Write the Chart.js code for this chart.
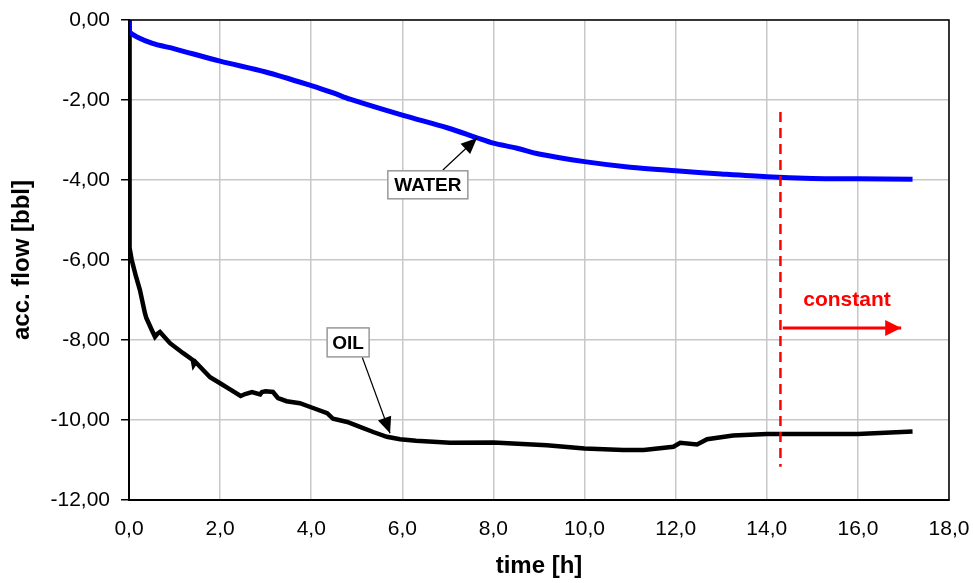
<!DOCTYPE html>
<html>
<head>
<meta charset="utf-8">
<script src="https://cdn.jsdelivr.net/npm/chart.js@4/dist/chart.umd.min.js"></script>
<style>
  body { margin: 0; background: #fff; }
  canvas { display: block; }
</style>
</head>
<body>
<canvas id="chart" width="973" height="583"></canvas>
<script>
// time [h] and accumulated flow [bbl]
const waterTime = [0, 0.01, 0.5, 1.0, 2.0, 3.0, 4.0, 4.5, 4.85, 6.0, 7.0, 7.65, 8.0, 8.5, 9.0, 10.0, 11.0, 12.0, 13.0, 14.0, 15.0, 16.0, 17.2];
const waterFlow = [0, -0.3, -0.58, -0.72, -1.03, -1.3, -1.64, -1.83, -1.98, -2.38, -2.7, -2.95, -3.08, -3.2, -3.35, -3.54, -3.68, -3.77, -3.85, -3.92, -3.96, -3.97, -3.98];

const oilTime = [0, 0.005, 0.02, 0.06, 0.15, 0.24, 0.35, 0.38, 0.5, 0.57, 0.62, 0.68, 0.9, 1.19, 1.4, 1.42, 1.46, 1.78, 2.0, 2.2, 2.45, 2.55, 2.7, 2.88, 2.92, 3.0, 3.16, 3.27, 3.46, 3.75, 4.04, 4.35, 4.48, 4.79, 5.07, 5.36, 5.66, 5.95, 6.3, 7.05, 8.0, 9.17, 10.0, 10.85, 11.3, 11.95, 12.1, 12.47, 12.69, 13.26, 14.0, 15.1, 16.0, 17.2];
const oilFlow = [0, -5.4, -5.7, -6.0, -6.4, -6.75, -7.33, -7.45, -7.75, -7.92, -7.85, -7.8, -8.08, -8.33, -8.5, -8.62, -8.55, -8.93, -9.08, -9.22, -9.4, -9.35, -9.3, -9.36, -9.3, -9.28, -9.3, -9.45, -9.53, -9.58, -9.7, -9.83, -9.97, -10.05, -10.17, -10.3, -10.42, -10.48, -10.52, -10.57, -10.56, -10.63, -10.71, -10.75, -10.75, -10.67, -10.57, -10.61, -10.48, -10.39, -10.35, -10.35, -10.35, -10.29];

// "constant" marker: dashed line and arrow
const markTime = [14.3, 14.3];
const markFlow = [-2.3, -11.17];
const arrowTime = [14.35, 16.95];
const arrowFlow = [-7.7, -7.7];

const xTicks = [0, 2, 4, 6, 8, 10, 12, 14, 16, 18];
const yTicks = [0, -2, -4, -6, -8, -10, -12];

function pts(xs, ys) {
  return xs.map((x, i) => ({ x: x, y: ys[i] }));
}

const FONT = 'Liberation Sans, Arial, sans-serif';

function arrowHead(ctx, x1, y1, x2, y2, len, half, color) {
  const a = Math.atan2(y2 - y1, x2 - x1);
  ctx.save();
  ctx.fillStyle = color;
  ctx.beginPath();
  ctx.moveTo(x2, y2);
  ctx.lineTo(x2 - len * Math.cos(a) + half * Math.sin(a), y2 - len * Math.sin(a) - half * Math.cos(a));
  ctx.lineTo(x2 - len * Math.cos(a) - half * Math.sin(a), y2 - len * Math.sin(a) + half * Math.cos(a));
  ctx.closePath();
  ctx.fill();
  ctx.restore();
}

function callout(chart, text, cx, cy, w, h, fromX, fromY, toX, toY) {
  const ctx = chart.ctx;
  const xs = chart.scales.x, ys = chart.scales.y;
  const px = xs.getPixelForValue(cx), py = ys.getPixelForValue(cy);
  const ax = xs.getPixelForValue(fromX), ay = ys.getPixelForValue(fromY);
  const bx = xs.getPixelForValue(toX), by = ys.getPixelForValue(toY);
  ctx.save();
  ctx.strokeStyle = '#000';
  ctx.lineWidth = 1.2;
  ctx.beginPath();
  ctx.moveTo(ax, ay);
  ctx.lineTo(bx, by);
  ctx.stroke();
  arrowHead(ctx, ax, ay, bx, by, 16, 7, '#000');
  ctx.fillStyle = '#fff';
  ctx.fillRect(px - w / 2, py - h / 2, w, h);
  ctx.strokeStyle = '#999';
  ctx.lineWidth = 1.5;
  ctx.strokeRect(px - w / 2, py - h / 2, w, h);
  ctx.fillStyle = '#000';
  ctx.font = 'bold 19px ' + FONT;
  ctx.textAlign = 'center';
  ctx.textBaseline = 'middle';
  ctx.fillText(text, px, py + 1);
  ctx.restore();
}

const extras = {
  id: 'extras',
  afterDatasetsDraw(chart) {
    const ctx = chart.ctx;
    const a = chart.chartArea;
    const xs = chart.scales.x, ys = chart.scales.y;

    // frame round the plot area
    ctx.save();
    ctx.strokeStyle = '#000';
    ctx.lineWidth = 1.5;
    ctx.strokeRect(a.left, a.top, a.right - a.left, a.bottom - a.top);
    ctx.restore();

    // red arrow head and text
    const x1 = xs.getPixelForValue(arrowTime[0]), x2 = xs.getPixelForValue(arrowTime[1]);
    const y1 = ys.getPixelForValue(arrowFlow[0]);
    arrowHead(ctx, x1, y1, x2, y1, 16, 8, '#ff0000');
    ctx.save();
    ctx.fillStyle = '#ff0000';
    ctx.font = 'bold 21px ' + FONT;
    ctx.textAlign = 'center';
    ctx.textBaseline = 'middle';
    ctx.fillText('constant', xs.getPixelForValue(15.76), ys.getPixelForValue(-7.0));
    ctx.restore();

    callout(chart, 'WATER', 6.56, -4.12, 80, 28, 6.89, -3.75, 7.64, -2.95);
    callout(chart, 'OIL', 4.81, -8.06, 42, 29, 5.12, -8.43, 5.73, -10.33);
  }
};

new Chart(document.getElementById('chart'), {
  type: 'scatter',
  data: {
    datasets: [
      {
        data: pts(markTime, markFlow),
        showLine: true,
        borderColor: '#ff0000',
        borderWidth: 2.5,
        borderDash: [10, 6],
        pointRadius: 0
      },
      {
        data: pts(arrowTime, arrowFlow),
        showLine: true,
        borderColor: '#ff0000',
        borderWidth: 3,
        pointRadius: 0
      },
      {
        label: 'WATER',
        data: pts(waterTime, waterFlow),
        showLine: true,
        borderColor: '#0000ff',
        borderWidth: 5,
        pointRadius: 0,
        tension: 0.3
      },
      {
        label: 'OIL',
        data: pts(oilTime, oilFlow),
        showLine: true,
        borderColor: '#000000',
        borderWidth: 4.5,
        pointRadius: 0,
        tension: 0
      }
    ]
  },
  options: {
    responsive: false,
    animation: false,
    layout: { padding: { top: 20, right: 24, left: 0, bottom: 0 } },
    plugins: {
      legend: { display: false },
      tooltip: { enabled: false }
    },
    scales: {
      x: {
        type: 'linear',
        min: 0,
        max: 18,
        afterFit(scale) {
          scale.height = 83;
          scale.paddingLeft = 0;
          scale.paddingRight = 0;
        },
        afterBuildTicks(scale) { scale.ticks = xTicks.map(v => ({ value: v })); },
        ticks: {
          padding: 17,
          color: '#000',
          font: { family: FONT, size: 21 },
          callback: v => v.toFixed(1).replace('.', ',')
        },
        grid: { color: '#c8c8c8', lineWidth: 1.5, drawTicks: false },
        border: { color: '#000', width: 2 },
        title: {
          display: true,
          text: 'time [h]',
          color: '#000',
          font: { family: FONT, size: 24, weight: 'bold' },
          padding: { top: 0, bottom: 2 }
        }
      },
      y: {
        type: 'linear',
        min: -12,
        max: 0,
        afterFit(scale) {
          scale.width = 129;
          scale.paddingTop = 0;
          scale.paddingBottom = 0;
        },
        afterBuildTicks(scale) { scale.ticks = yTicks.map(v => ({ value: v })); },
        ticks: {
          padding: 11,
          color: '#000',
          font: { family: FONT, size: 21 },
          callback: v => (v === 0 ? 0 : v).toFixed(2).replace('.', ',')
        },
        grid: { color: '#c8c8c8', lineWidth: 1.5, tickLength: 8, tickColor: '#000', tickWidth: 1.5 },
        border: { color: '#000', width: 2 },
        title: {
          display: true,
          text: 'acc. flow [bbl]',
          color: '#000',
          font: { family: FONT, size: 24, weight: 'bold' },
          padding: { top: 8, bottom: 0 }
        }
      }
    }
  },
  plugins: [extras]
});
</script>
</body>
</html>
